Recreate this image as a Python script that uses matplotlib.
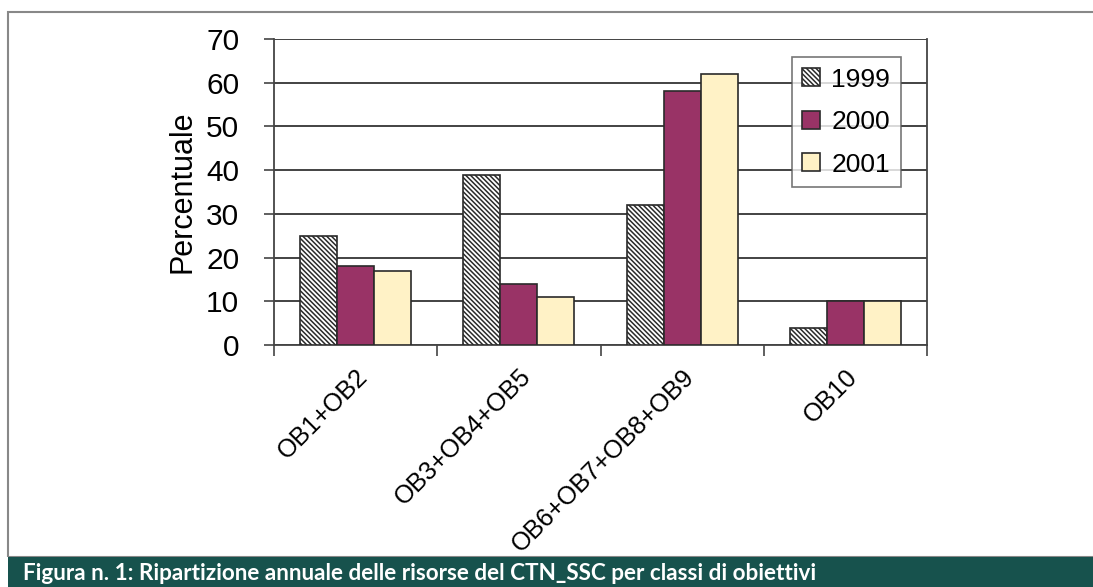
import matplotlib
matplotlib.use("Agg")
import matplotlib.pyplot as plt
import numpy as np
from matplotlib.patches import Rectangle

# Ripartizione delle risorse per classi di obiettivi (%)
categories = ["OB1+OB2", "OB3+OB4+OB5", "OB6+OB7+OB8+OB9", "OB10"]
years = ["1999", "2000", "2001"]
values_1999 = [25, 39, 32, 4]
values_2000 = [18, 14, 58, 10]
values_2001 = [17, 11, 62, 10]
caption = "Figura n. 1: Ripartizione annuale delle risorse del CTN_SSC per classi di obiettivi"

plt.rcParams["font.family"] = ["Liberation Sans", "DejaVu Sans"]
plt.rcParams["hatch.linewidth"] = 1.1
plt.rcParams["hatch.color"] = "#111111"

fig = plt.figure(figsize=(10.93, 5.87), dpi=100)
ax = fig.add_axes([274 / 1093, 1 - 345 / 587, 653 / 1093, 306 / 587])

x = np.arange(len(categories))
w = 0.227
edge = "#2a2a2a"
ax.bar(x - w, values_1999, w, color="white", edgecolor=edge, linewidth=1.2,
       hatch="\\" * 7, label=years[0], zorder=3)
ax.bar(x, values_2000, w, color="#993366", edgecolor=edge, linewidth=1.2,
       label=years[1], zorder=3)
ax.bar(x + w, values_2001, w, color="#FFF2C6", edgecolor=edge, linewidth=1.2,
       label=years[2], zorder=3)

ax.set_xlim(-0.5, len(categories) - 0.5)
ax.set_ylim(0, 70)
ax.set_yticks(range(0, 71, 10))
ax.yaxis.grid(True, color="#222222", linewidth=1.2, zorder=0)
ax.set_axisbelow(True)

# category labels at centres, tick marks at group boundaries
ax.set_xticks(x)
ax.set_xticklabels(categories, rotation=45, ha="right", rotation_mode="anchor",
                   fontsize=18.3)
ax.set_xticks(np.arange(-0.5, len(categories), 1), minor=True)
ax.tick_params(axis="x", which="major", length=0, pad=14)
ax.tick_params(axis="x", which="minor", length=8, width=1.2, color="#444444")
ax.tick_params(axis="y", length=7, width=1.2, color="#444444", labelsize=21.5, pad=18)

ax.spines["top"].set_visible(False)
for s in ["left", "right", "bottom"]:
    ax.spines[s].set_color("#444444")
    ax.spines[s].set_linewidth(1.3)

ax.set_ylabel("Percentuale", fontsize=22, labelpad=6)

leg = ax.legend(loc="upper left", bbox_to_anchor=(0.793, 0.941), fontsize=19,
                frameon=True, fancybox=False, handlelength=0.67, handleheight=0.67,
                handletextpad=0.42, labelspacing=0.7, borderpad=0.4,
                borderaxespad=0)
leg.get_frame().set_edgecolor("#555555")
leg.get_frame().set_linewidth(1.2)

# outer frame and caption band
fig.patches.append(Rectangle((8 / 1093, 30 / 587), 1.1, 545 / 587, transform=fig.transFigure,
                             facecolor="none", edgecolor="#888888", linewidth=1.5, zorder=0))
fig.patches.append(Rectangle((8 / 1093, 0), 1.1, 30 / 587, transform=fig.transFigure,
                             facecolor="#17524D", edgecolor="none", zorder=1))
fig.text(23 / 1093, 13 / 587, caption, color="white", fontsize=16.2,
         fontweight="bold", family=["Lato", "DejaVu Sans"], va="center", ha="left")

fig.savefig("out.png", dpi=100)
